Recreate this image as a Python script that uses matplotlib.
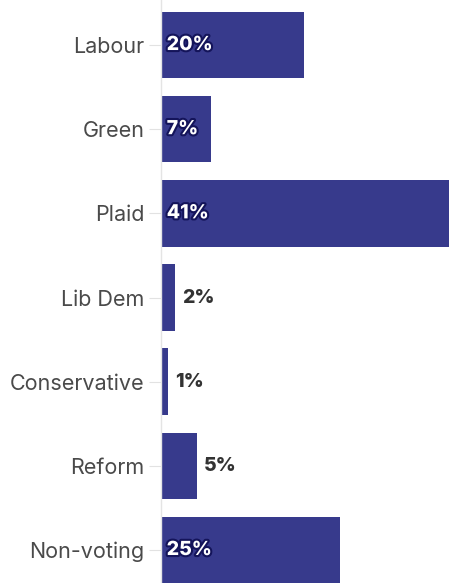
import matplotlib.pyplot as plt
import matplotlib.patheffects as pe

parties = ['Labour', 'Green', 'Plaid', 'Lib Dem', 'Conservative', 'Reform', 'Non-voting']
shares = [20, 7, 41, 2, 1, 5, 25]

BAR = '#373a8c'
INSIDE_MIN = 6  # bars wide enough to hold the label inside
FONT = ['Inter', 'DejaVu Sans']

fig = plt.figure(figsize=(4.49, 5.83), dpi=100)
ax = fig.add_axes([161 / 449, 0, 1 - 161 / 449, 1])

ax.barh(range(len(parties)), shares, height=0.79, color=BAR)
ax.set_xlim(0, 40.3)
ax.set_ylim(6.392, -0.535)

ax.set_yticks(range(len(parties)))
ax.set_yticklabels(parties, fontsize=15.5, color='#4a4a4a', family=FONT)
ax.tick_params(axis='y', length=9, width=0.8, color='#e2e2e2', pad=3)
ax.set_xticks([])
for s in ['top', 'right', 'bottom']:
    ax.spines[s].set_visible(False)
ax.spines['left'].set_color('#e4e4e4')
ax.spines['left'].set_linewidth(1)

for i, v in enumerate(shares):
    if v >= INSIDE_MIN:
        t = ax.text(0.8, i, f'{v}%', va='center', ha='left', fontsize=14, fontweight='heavy',
                    color='white', family=FONT)
        t.set_path_effects([pe.withStroke(linewidth=3, foreground='#14145a')])
    else:
        ax.text(v + 1.0, i, f'{v}%', va='center', ha='left', fontsize=14, fontweight='heavy',
                color='#333333', family=FONT)

fig.savefig('out.png', dpi=100)
